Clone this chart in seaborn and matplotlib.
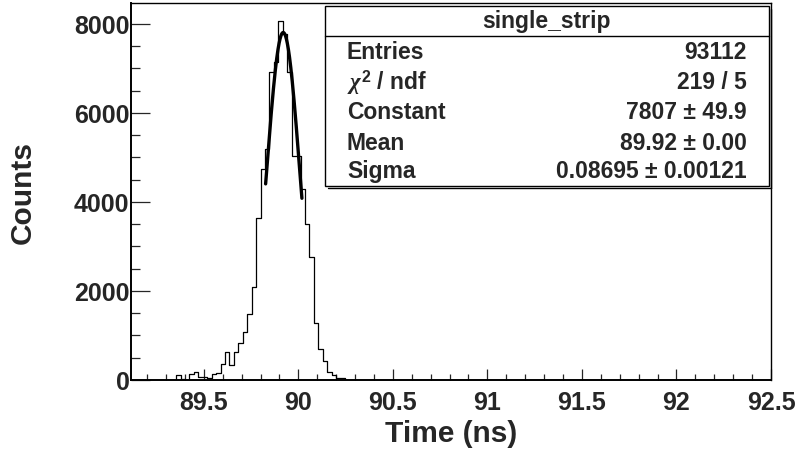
import numpy as np
import pandas as pd
import matplotlib
matplotlib.use("Agg")
import matplotlib.pyplot as plt
import seaborn as sns
from matplotlib.ticker import MultipleLocator, FormatStrFormatter
from matplotlib.patches import Rectangle
from matplotlib.lines import Line2D

# ---------------- data ----------------
bin_start = 89.3303      # left edge of first listed bin (ns)
bin_width = 0.0235       # ns
counts = [0, 105, 25, 10, 135, 170, 70, 60, 50, 140, 150,
          360, 640, 330, 630, 830, 1070, 1480, 2080, 3640, 4730,
          5190, 6930, 7150, 8070, 7775, 6930, 5030, 5030, 4300, 3500,
          2770, 1280, 700, 430, 190, 120, 35, 40, 10, 5]

fit_constant = 7807
fit_mean = 89.92
fit_sigma = 0.08695
fit_range = [89.827, 90.019]

stats_title = "single_strip"
stats_labels = ["Entries", r"$\chi^{2}$ / ndf", "Constant", "Mean", "Sigma"]
stats_values = ["93112", "219 / 5", "7807 ± 49.9", "89.92 ± 0.00", "0.08695 ± 0.00121"]

x_ticks = [89.5, 90, 90.5, 91, 91.5, 92, 92.5]
y_ticks = [0, 2000, 4000, 6000, 8000]
x_label = "Time (ns)"
y_label = "Counts"

# ---------------- style ----------------
sns.set_style("white")
plt.rcParams["font.family"] = ["Liberation Sans", "DejaVu Sans"]
plt.rcParams["font.weight"] = "bold"
plt.rcParams["mathtext.fontset"] = "custom"
plt.rcParams["mathtext.rm"] = "Liberation Sans:bold"
plt.rcParams["mathtext.it"] = "Liberation Serif:italic"
plt.rcParams["mathtext.bf"] = "Liberation Sans:bold"

W, H = 795, 452
fig = plt.figure(figsize=(W / 100, H / 100), dpi=100)
L, R, T, B = 131, 771, 4, 381
ax = fig.add_axes([L / W, 1 - B / H, (R - L) / W, (B - T) / H])

edges = [float(e) for e in bin_start + bin_width * np.arange(len(counts) + 1)]
centers = [0.5 * (edges[i] + edges[i + 1]) for i in range(len(counts))]
df = pd.DataFrame({"time": centers, "counts": counts})

sns.histplot(data=df, x="time", weights="counts", bins=edges, element="step",
             fill=False, color="black", linewidth=0.9, ax=ax)

xf = np.linspace(fit_range[0], fit_range[1], 200)
yf = fit_constant * np.exp(-0.5 * ((xf - fit_mean) / fit_sigma) ** 2)
sns.lineplot(x=xf, y=yf, color="black", linewidth=2.4, ax=ax)

ax.set_xlim(89.115, 92.5)
ax.set_ylim(0, 8470)
ax.set_xticks(x_ticks)
ax.xaxis.set_major_formatter(FormatStrFormatter("%g"))
ax.xaxis.set_minor_locator(MultipleLocator(0.1))
ax.set_yticks(y_ticks)
ax.yaxis.set_minor_locator(MultipleLocator(500))

ax.tick_params(axis="x", which="major", direction="in", length=8, width=0.9,
               labelsize=18, pad=7, top=False, bottom=True)
ax.tick_params(axis="x", which="minor", direction="in", length=4, width=0.9,
               top=False, bottom=True)
ax.tick_params(axis="y", which="major", direction="in", length=13.7, width=0.9,
               labelsize=18, pad=1, left=True, right=False)
ax.tick_params(axis="y", which="minor", direction="in", length=6.8, width=0.9,
               left=True, right=False)
for lab in ax.get_xticklabels() + ax.get_yticklabels():
    lab.set_fontweight("bold")

for s in ax.spines.values():
    s.set_visible(True)
    s.set_color("black")
    s.set_linewidth(1.0)
ax.spines["left"].set_linewidth(1.4)
ax.spines["bottom"].set_linewidth(1.4)

ax.set_xlabel(x_label, fontsize=21.5, fontweight="bold", va="center", ha="center")
ax.set_ylabel(y_label, fontsize=21.5, fontweight="bold", va="center", ha="center")
ax.xaxis.set_label_coords(0.5, -(434 - B) / (B - T))
ax.yaxis.set_label_coords(-(L - 23) / (R - L), 0.5)

# ---------------- stats box ----------------
def fx(px):
    return px / W

def fy(py):
    return 1 - py / H

bx0, bx1, by0, by1 = 325, 768.5, 7, 186.5
sep = 37
# shadow
fig.add_artist(Line2D([fx(bx1 + 2), fx(bx1 + 2)], [fy(by0 + 3), fy(by1 + 2)],
                      transform=fig.transFigure, color="black", lw=1.0))
fig.add_artist(Line2D([fx(bx0 + 3), fx(bx1 + 2)], [fy(by1 + 2), fy(by1 + 2)],
                      transform=fig.transFigure, color="black", lw=1.0))
fig.add_artist(Rectangle((fx(bx0), fy(by1)), fx(bx1) - fx(bx0), fy(by0) - fy(by1),
                         transform=fig.transFigure, facecolor="white",
                         edgecolor="black", lw=1.0))
fig.add_artist(Line2D([fx(bx0), fx(bx1)], [fy(sep), fy(sep)],
                      transform=fig.transFigure, color="black", lw=1.0))

fig.text(fx(546.5), fy(21.5), stats_title, fontsize=16.5, fontweight="bold",
         ha="center", va="center")
row_y = [52.5, 82.5, 112.5, 143, 172]
for yy, lab, val in zip(row_y, stats_labels, stats_values):
    fig.text(fx(347), fy(yy), lab, fontsize=16.5, fontweight="bold",
             ha="left", va="center")
    fig.text(fx(746.5), fy(yy), val, fontsize=16.5, fontweight="bold",
             ha="right", va="center")

fig.savefig("out.png", dpi=100)
